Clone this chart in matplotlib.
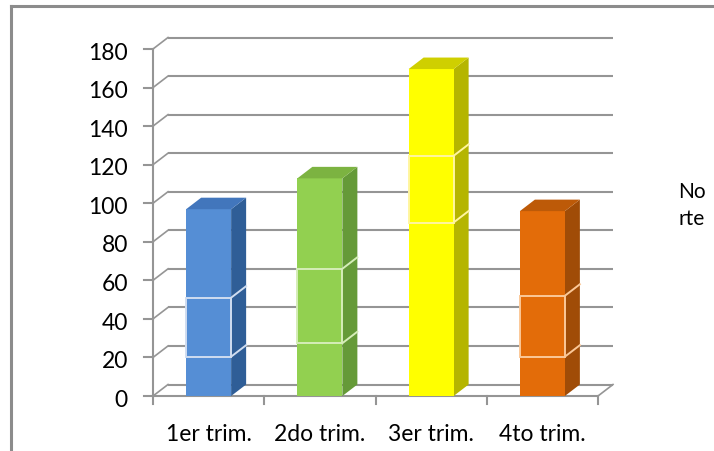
import numpy as np
import matplotlib.pyplot as plt
from matplotlib.patches import Polygon, Rectangle

plt.rcParams['font.family'] = ['Lato', 'DejaVu Sans']

categories = ['1er trim.', '2do trim.', '3er trim.', '4to trim.']
este = [20.4, 27.4, 90, 20.4]
oeste = [30.6, 38.6, 34.6, 31.6]
norte = [45.9, 46.9, 45, 43.9]
yticks = list(range(0, 181, 20))

# colour per point: front, side, top, light outline
front = ['#558ED5', '#92D050', '#FFFF00', '#E36C09']
side = ['#2F5E97', '#659A38', '#B5B500', '#A04C07']
top = ['#4276BC', '#7CB341', '#CFCF00', '#BD5A08']
light = ['#D0DDF0', '#D5EDB8', '#FFF5A0', '#FBC898']

W, H = 714, 452
fig = plt.figure(figsize=(W / 100, H / 100), dpi=100)
ax = fig.add_axes([153 / W, (H - 397) / H, 445 / W, 347 / H])
ax.set_xlim(-0.5, 3.5)
ax.set_ylim(0, 180)
ax.axis('off')

# outer border (top and left only visible)
fig.add_artist(plt.Line2D([10.5 / W, 10.5 / W], [0, (H - 6.5) / H], color='#8C8C8C', lw=2.2, transform=fig.transFigure))
fig.add_artist(plt.Line2D([10.5 / W, 1], [(H - 6.5) / H, (H - 6.5) / H], color='#8C8C8C', lw=2.2, transform=fig.transFigure))

dx = 15 / 111.25
dy = 11.5 / 347 * 180
grid_c = '#959595'

# back wall gridlines + left wall diagonals
for v in yticks:
    ax.plot([-0.5 + dx, 3.5 + dx], [v + dy, v + dy], color=grid_c, lw=1.5, clip_on=False, solid_capstyle='butt')
    ax.plot([-0.5, -0.5 + dx], [v, v + dy], color=grid_c, lw=1.2, clip_on=False)
    ax.plot([-0.5 - 0.08, -0.5], [v, v], color=grid_c, lw=1.5, clip_on=False)
# floor
ax.plot([3.5, 3.5 + dx], [0, dy], color=grid_c, lw=1.2, clip_on=False)
ax.plot([-0.5, 3.5], [0, 0], color=grid_c, lw=1.5, clip_on=False)
ax.plot([-0.5, -0.5], [0, 180], color=grid_c, lw=1.5, clip_on=False)
for i in range(5):
    ax.plot([-0.5 + i, -0.5 + i], [0, -4.2], color=grid_c, lw=1.5, clip_on=False)

bw = 45 / 111.25
for i in range(4):
    x0 = i - bw / 2
    x1 = i + bw / 2
    segs = [(0, este[i]), (este[i], este[i] + oeste[i]),
            (este[i] + oeste[i], este[i] + oeste[i] + norte[i])]
    for k, (b, t) in enumerate(segs):
        ax.add_patch(Polygon([(x1, b), (x1 + dx, b + dy), (x1 + dx, t + dy), (x1, t)],
                             closed=True, fc=side[i], ec='none', clip_on=False, zorder=3))
        ax.add_patch(Rectangle((x0, b), bw, t - b, fc=front[i], ec='none', clip_on=False, zorder=3))
    b, t = segs[1]
    ax.add_patch(Polygon([(x0, b), (x1, b), (x1, t), (x0, t)], closed=True, fill=False,
                         ec=light[i], lw=1.4, clip_on=False, zorder=4))
    ax.plot([x1, x1 + dx], [b, b + dy], color=light[i], lw=1.4, clip_on=False, zorder=4)
    ax.plot([x1, x1 + dx], [t, t + dy], color=light[i], lw=1.4, clip_on=False, zorder=4)
    tt = segs[2][1]
    ax.add_patch(Polygon([(x0, tt), (x1, tt), (x1 + dx, tt + dy), (x0 + dx, tt + dy)],
                         closed=True, fc=top[i], ec='none', clip_on=False, zorder=3))

fs = 16.5
for v in yticks:
    ax.text(-0.725, v - 5, str(v), ha='right', va='baseline', fontsize=fs, color='black')
for i, c in enumerate(categories):
    ax.text(i, -22.8, c, ha='center', va='baseline', fontsize=fs, color='black')

fig.text(678 / W, 1 - 198 / H, 'No', ha='left', va='baseline', fontsize=15)
fig.text(678 / W, 1 - 225 / H, 'rte', ha='left', va='baseline', fontsize=15)

fig.savefig('out.png', dpi=100)
